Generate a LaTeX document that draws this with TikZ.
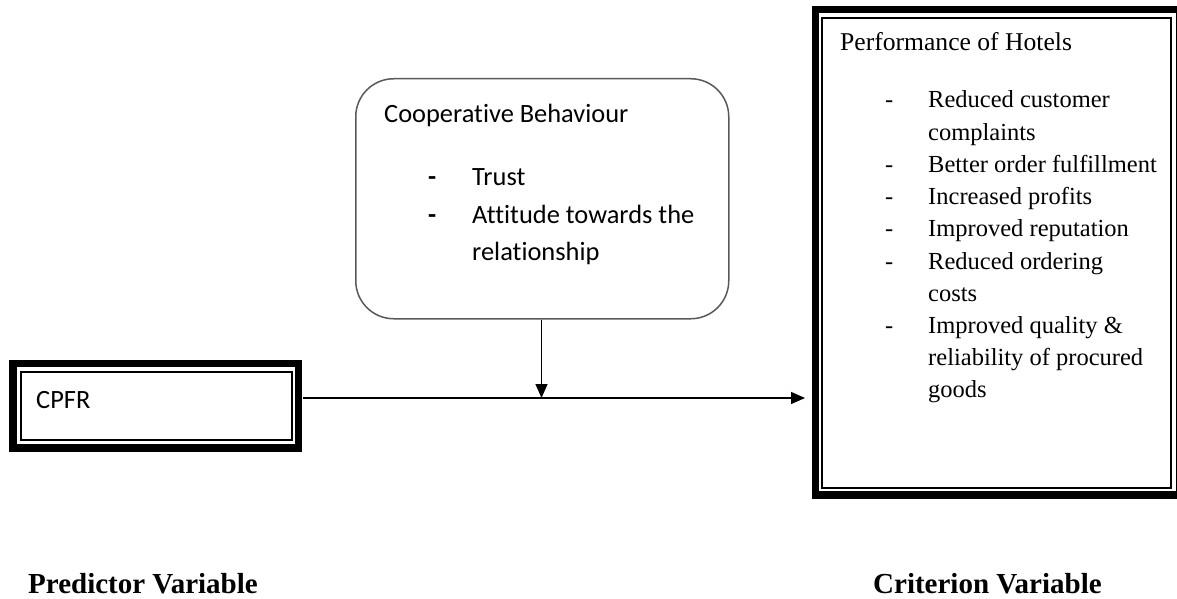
\documentclass[tikz,border=0pt]{standalone}
\usepackage{fontspec}
\setmainfont{Liberation Serif}
\newfontfamily\calfont[Ligatures=NoCommon]{Carlito}
\usetikzlibrary{arrows.meta}
\tikzset{
  txt/.style={inner sep=0pt, anchor=base west},
  serif/.style={font=\fontsize{24.5}{24.5}\selectfont},
  cal/.style={font=\calfont\fontsize{26.4}{26.4}\selectfont},
  lbl/.style={font=\bfseries\fontsize{29}{29}\selectfont},
  thickframe/.style={line width=7.5pt, draw=black},
  thinframe/.style={line width=1.5pt, draw=black},
  conn/.style={line width=1.3pt, -{Triangle[length=14pt,width=12pt]}},
}
\begin{document}
\begin{tikzpicture}[x=1pt,y=-1pt]
\useasboundingbox (0,0) rectangle (1177,599);
% CPFR box
\draw[thickframe] (13,363.5) rectangle (298.5,448);
\draw[thinframe] (21,372) rectangle (292,440);
\node (cpfr) [inner sep=0pt, minimum width=293pt, minimum height=92pt, anchor=north west] at (9.5,360) {};
\node[txt,cal] (cpfrt) at (36,408) {CPFR};
% Performance box
\draw[thickframe] (815.5,9.5) rectangle (1180,495);
\draw[thinframe] (822,18) rectangle (1171,488);
\node (perf) [inner sep=0pt, minimum width=362pt, minimum height=489pt, anchor=north west] at (812,6) {};
\node[txt,font=\fontsize{25.6}{25.6}\selectfont] (pt) at (840,51) {Performance of Hotels};
\foreach \y/\d/\t [count=\i] in {
  108/-/Reduced customer,
  140//complaints,
  172/-/Better order fulfillment,
  204/-/Increased profits,
  236/-/Improved reputation,
  269/-/Reduced ordering,
  301//costs,
  333/-/Improved quality \&,
  365//reliability of procured,
  397//goods}{
  \node[txt,serif] (pd\i) at (885,\y) {\d};
  \node[txt,serif] (pi\i) at (928,\y) {\t};
}
% Cooperative behaviour box
\node (coop) [draw=black!65, line width=1.5pt, rounded corners=38pt, inner sep=0pt,
  minimum width=373pt, minimum height=240pt, anchor=north west] at (355,78) {};
\node[txt,cal] (ct) at (384,123) {Cooperative Behaviour};
\node[txt,font=\calfont\bfseries\fontsize{26.4}{26.4}\selectfont] (cd1) at (428,185) {-};
\node[txt,cal] (ci1) at (472,185) {Trust};
\node[txt,font=\calfont\bfseries\fontsize{26.4}{26.4}\selectfont] (cd2) at (428,223) {-};
\node[txt,cal] (ci2) at (472,223) {Attitude towards the};
\node[txt,cal] (ci3) at (472,260) {relationship};
% connectors
\coordinate (meet) at (541.5,398);
\draw[conn, shorten >=7pt] (cpfr.east |- meet) -- (perf.west |- meet);
\draw[conn] (coop.south -| meet) -- (meet);
% labels
\node[txt,lbl] (pred) at (28,593) {Predictor Variable};
\node[txt,lbl] (crit) at (873,593) {Criterion Variable};
\end{tikzpicture}
\end{document}
